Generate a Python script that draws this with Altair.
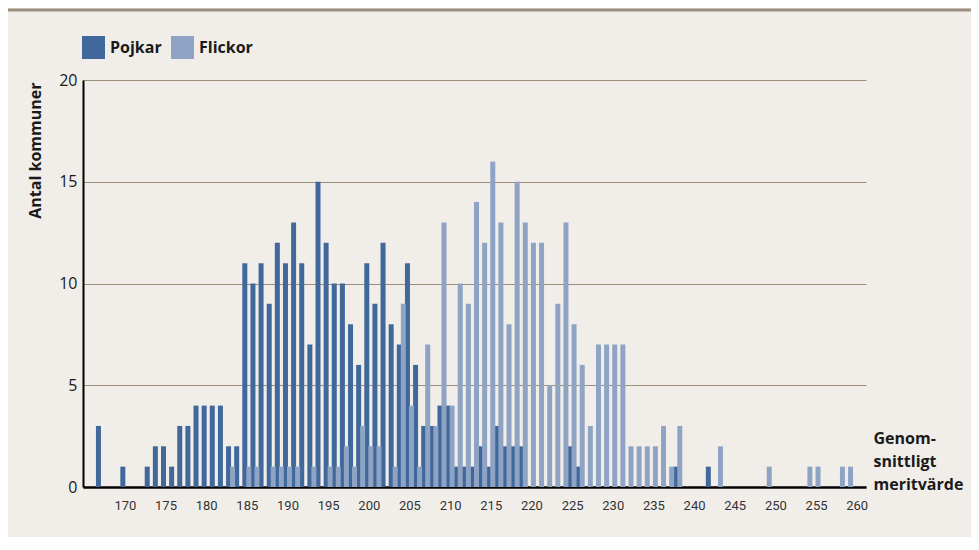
import altair as alt
import pandas as pd

# ---- data ----
pojkar_scores = [167, 170, 173, 174, 175, 176, 177, 178, 179, 180, 181, 182, 183, 184,
                 185, 186, 187, 188, 189, 190, 191, 192, 193, 194, 195, 196, 197, 198,
                 199, 200, 201, 202, 203, 204, 205, 206, 207, 208, 209, 210, 211, 212,
                 213, 214, 215, 216, 217, 218, 219, 225, 226, 238, 242]
pojkar_counts = [3, 1, 1, 2, 2, 1, 3, 3, 4, 4, 4, 4, 2, 2,
                 11, 10, 11, 9, 12, 11, 13, 11, 7, 15, 12, 10, 10, 8,
                 6, 11, 9, 12, 8, 7, 11, 6, 3, 3, 4, 4, 1, 1,
                 1, 2, 1, 3, 2, 2, 2, 2, 1, 1, 1]

flickor_scores = [183, 185, 186, 188, 189, 190, 191, 193, 195, 196, 197, 198, 199, 200,
                  201, 203, 204, 205, 206, 207, 208, 209, 210, 211, 212, 213, 214, 215,
                  216, 217, 218, 219, 220, 221, 222, 223, 224, 225, 226, 227, 228, 229,
                  230, 231, 232, 233, 234, 235, 236, 237, 238, 243, 249, 254, 255, 258, 259]
flickor_counts = [1, 1, 1, 1, 1, 1, 1, 1, 1, 1, 2, 1, 3, 2,
                  2, 1, 9, 4, 1, 7, 3, 13, 4, 10, 9, 14, 12, 16,
                  13, 8, 15, 13, 12, 12, 5, 9, 13, 8, 6, 3, 7, 7,
                  7, 7, 2, 2, 2, 2, 3, 1, 3, 2, 1, 1, 1, 1, 1]

x_ticks = list(range(170, 261, 5))
y_ticks = [0, 5, 10, 15, 20]
series = ["Pojkar", "Flickor"]
colors = ["#41689b", "#8fa4c4"]

df_p = pd.DataFrame({"score": pojkar_scores, "antal": pojkar_counts, "kon": "Pojkar"})
df_f = pd.DataFrame({"score": flickor_scores, "antal": flickor_counts, "kon": "Flickor"})

BROWN = "#9e8e7e"
INK = "#1a1a1a"
BOLD_FONT = "Open Sans"

x_enc = alt.X(
    "score:Q",
    scale=alt.Scale(domain=[165.47, 260.53], nice=False, zero=False),
    axis=alt.Axis(
        values=x_ticks, format="d", ticks=False, grid=False,
        domainColor="black", domainWidth=2.5,
        labelFont="Liberation Sans Narrow, Roboto, sans-serif", labelFontSize=13,
        labelColor="#333333", labelPadding=12, labelFlush=False,
        title=["Genom-", "snittligt", "meritvärde"],
        titleFont=BOLD_FONT, titleFontWeight="bold", titleFontSize=16,
        titleColor=INK, titleAlign="left", titleBaseline="alphabetic",
        titleX=790, titleY=-44, titleLineHeight=23, titleAngle=0,
    ),
)
y_enc = alt.Y(
    "antal:Q",
    scale=alt.Scale(domain=[0, 20], nice=False),
    axis=alt.Axis(
        values=y_ticks, ticks=False, grid=True, gridColor=BROWN, gridWidth=1.2,
        domainColor="black", domainWidth=2,
        labelFont=BOLD_FONT, labelFontSize=16, labelColor=INK, labelPadding=6,
        title="Antal kommuner", titleFont=BOLD_FONT, titleFontWeight="bold",
        titleFontSize=16, titleColor=INK, titleAngle=-90, titleAlign="right",
        titleBaseline="bottom", titleX=-40, titleY=2,
    ),
)
c_enc = alt.Color(
    "kon:N",
    scale=alt.Scale(domain=series, range=colors),
    legend=alt.Legend(
        title=None, orient="none", legendX=-1, legendY=-44, direction="horizontal",
        symbolType="square", symbolSize=529, symbolStrokeWidth=0, symbolOpacity=1,
        labelFont=BOLD_FONT, labelFontWeight="bold", labelFontSize=16,
        labelColor=INK, labelOffset=5, columnPadding=9, padding=0,
    ),
)

bars_p = alt.Chart(df_p).mark_bar(size=5, xOffset=-2, opacity=1).encode(
    x=x_enc, y=y_enc, color=c_enc)
bars_f = alt.Chart(df_f).mark_bar(size=5, xOffset=2, opacity=1).encode(
    x=x_enc, y=y_enc, color=c_enc)

top_rule = alt.Chart(pd.DataFrame({"a": [0]})).mark_rule(
    color=BROWN, strokeWidth=3).encode(
    x=alt.value(-75), x2=alt.value(900), y=alt.value(-70))

chart = alt.layer(bars_p, bars_f, top_rule).properties(
    width=783, height=407,
    autosize=alt.AutoSizeParams(type="none"),
    padding={"left": 75, "top": 72, "right": 105, "bottom": 50},
    background="#f1eeea",
).configure_view(stroke=None)

chart.save("out.html", embed_options={"renderer": "svg", "actions": False})
